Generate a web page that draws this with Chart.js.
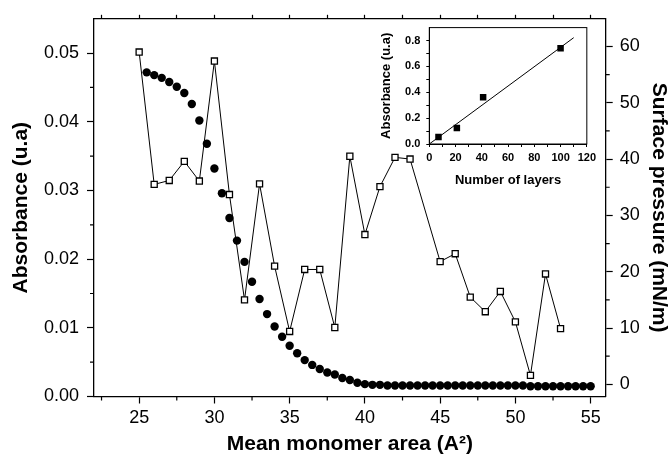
<!DOCTYPE html>
<html>
<head>
<meta charset="utf-8">
<script src="https://cdn.jsdelivr.net/npm/chart.js@4.4.1/dist/chart.umd.min.js"></script>
<style>
  body { margin: 0; background: #fff; }
  #wrap { position: relative; width: 672px; height: 454px; }
  #main { position: absolute; left: 0; top: 0; }
  #inset { position: absolute; left: 375px; top: 15px; }
</style>
</head>
<body>
<div id="wrap">
  <canvas id="main" width="672" height="454"></canvas>
  <canvas id="inset" width="225" height="180"></canvas>
</div>
<script>
// surface pressure isotherm (open squares, right axis)
const pressureArea = [25, 26, 27, 28, 29, 30, 31, 32, 33, 34, 35, 36, 37, 38, 39, 40, 41, 42, 43,
  45, 46, 47, 48, 49, 50, 51, 52, 53];
const pressure = [59.0, 35.5, 36.2, 39.6, 36.1, 57.4, 33.7, 15.0, 35.6, 21.0, 9.4, 20.4, 20.4, 10.1,
  40.5, 26.6, 35.1, 40.3, 40.0, 21.8, 23.2, 15.5, 12.9, 16.5, 11.1, 1.6, 19.6, 9.9];

// absorbance (filled circles, left axis)
const absArea = [25.5, 26, 26.5, 27, 27.5, 28, 28.5, 29, 29.5, 30, 30.5, 31, 31.5, 32, 32.5, 33,
  33.5, 34, 34.5, 35, 35.5, 36, 36.5, 37, 37.5, 38, 38.5, 39, 39.5, 40, 40.5, 41, 41.5, 42, 42.5,
  43, 43.5, 44, 44.5, 45, 45.5, 46, 46.5, 47, 47.5, 48, 48.5, 49, 49.5, 50, 50.5, 51, 51.5, 52,
  52.5, 53, 53.5, 54, 54.5, 55];
const absorbance = [0.0472, 0.0468, 0.0464, 0.0458, 0.0451, 0.0442, 0.0426, 0.0402, 0.0368, 0.0332,
  0.0296, 0.0260, 0.0227, 0.0196, 0.0167, 0.0142, 0.0120, 0.0102, 0.0087, 0.0074, 0.0063, 0.0053,
  0.0046, 0.0040, 0.0035, 0.0032, 0.0027, 0.0024, 0.0020, 0.0018, 0.0017, 0.0017, 0.0016, 0.0016,
  0.0016, 0.0016, 0.0016, 0.0016, 0.0016, 0.0016, 0.0016, 0.0016, 0.0016, 0.0016, 0.0016, 0.0016,
  0.0016, 0.0016, 0.0016, 0.0016, 0.0016, 0.0015, 0.0015, 0.0015, 0.0015, 0.0015, 0.0015, 0.0015,
  0.0015, 0.0015];

// inset: absorbance vs number of layers
const layers = [7, 21, 41, 100];
const layerAbs = [0.054, 0.123, 0.361, 0.741];
const fitLayers = [0, 110];
const fitAbs = [0.0, 0.822];

// ticks
const xTickValues = [22.5, 25, 27.5, 30, 32.5, 35, 37.5, 40, 42.5, 45, 47.5, 50, 52.5, 55];
const xLabelValues = [25, 30, 35, 40, 45, 50, 55];
const leftTickValues = [0, 0.005, 0.01, 0.015, 0.02, 0.025, 0.03, 0.035, 0.04, 0.045, 0.05];
const leftLabelValues = [0, 0.01, 0.02, 0.03, 0.04, 0.05];
const rightTickValues = [0, 5, 10, 15, 20, 25, 30, 35, 40, 45, 50, 55, 60];
const rightLabelValues = [0, 10, 20, 30, 40, 50, 60];
const insetXTicks = [0, 10, 20, 30, 40, 50, 60, 70, 80, 90, 100, 110, 120];
const insetXLabels = [0, 20, 40, 60, 80, 100, 120];
const insetYTicks = [0, 0.1, 0.2, 0.3, 0.4, 0.5, 0.6, 0.7, 0.8];
const insetYLabels = [0, 0.2, 0.4, 0.6, 0.8];

const FONT = "'Liberation Sans', Arial, Helvetica, sans-serif";
const near = (v, list) => list.some(l => Math.abs(l - v) < 1e-9);
const fixTicks = values => scale => { scale.ticks = values.map(v => ({ value: v })); };
const majorColor = labels => c => (c.tick && near(c.tick.value, labels)) ? '#000' : 'rgba(0,0,0,0)';

// short minor tick marks on the main axes
const minorTicks = {
  id: 'minorTicks',
  afterDraw(chart) {
    const ctx = chart.ctx;
    const s = chart.scales;
    ctx.save();
    ctx.strokeStyle = '#000';
    ctx.lineWidth = 1.2;
    ctx.beginPath();
    xTickValues.filter(v => !near(v, xLabelValues)).forEach(v => {
      const px = s.x.getPixelForValue(v);
      ctx.moveTo(px, s.x.top); ctx.lineTo(px, s.x.top + 4);
    });
    leftTickValues.filter(v => !near(v, leftLabelValues)).forEach(v => {
      const py = s.y.getPixelForValue(v);
      ctx.moveTo(s.y.right, py); ctx.lineTo(s.y.right - 4, py);
    });
    rightTickValues.filter(v => !near(v, rightLabelValues)).forEach(v => {
      const py = s.y2.getPixelForValue(v);
      ctx.moveTo(s.y2.left, py); ctx.lineTo(s.y2.left + 4, py);
    });
    ctx.stroke();
    ctx.restore();
  }
};

const boxPlugin = {
  id: 'box',
  afterDraw(chart) {
    const a = chart.chartArea;
    const ctx = chart.ctx;
    ctx.save();
    ctx.strokeStyle = '#000';
    ctx.lineWidth = 1;
    ctx.strokeRect(a.left, a.top, a.right - a.left, a.bottom - a.top);
    ctx.restore();
  }
};

const tickFont = { family: FONT, size: 18 };
const titleFont = { family: FONT, size: 21, weight: 'bold' };
const axisBorder = { color: '#000', width: 1.3 };

new Chart(document.getElementById('main'), {
  type: 'scatter',
  data: {
    datasets: [
      {
        label: 'Surface pressure',
        data: pressureArea.map((x, i) => ({ x: x, y: pressure[i] })),
        yAxisID: 'y2',
        showLine: true,
        borderColor: '#000',
        borderWidth: 1,
        pointStyle: 'rect',
        pointRadius: 4.3,
        pointBackgroundColor: '#fff',
        pointBorderColor: '#000',
        pointBorderWidth: 1.3
      },
      {
        label: 'Absorbance',
        data: absArea.map((x, i) => ({ x: x, y: absorbance[i] })),
        yAxisID: 'y',
        showLine: false,
        pointStyle: 'circle',
        pointRadius: 4.2,
        pointBackgroundColor: '#000',
        pointBorderColor: '#000',
        pointBorderWidth: 0
      }
    ]
  },
  options: {
    responsive: false,
    animation: false,
    devicePixelRatio: 1,
    layout: { padding: 0 },
    plugins: { legend: { display: false }, tooltip: { enabled: false } },
    scales: {
      x: {
        type: 'linear', position: 'bottom', min: 22, max: 56,
        afterBuildTicks: fixTicks(xTickValues),
        afterFit: s => { s.height = 57.5; },
        border: axisBorder,
        grid: { drawOnChartArea: false, tickLength: 7, tickWidth: 1.2, tickColor: majorColor(xLabelValues) },
        ticks: {
          padding: 4, color: '#000', font: tickFont, maxRotation: 0, autoSkip: false,
          callback: v => near(v, xLabelValues) ? String(v) : ''
        },
        title: { display: true, text: 'Mean monomer area (A²)', color: '#000', font: titleFont, padding: { top: 0, bottom: -3 } }
      },
      xTop: {
        type: 'linear', position: 'top', min: 22, max: 56,
        afterBuildTicks: fixTicks(xTickValues),
        afterFit: s => { s.height = 14.7; },
        border: axisBorder,
        grid: { drawOnChartArea: false, tickLength: 4, tickWidth: 1.2, tickColor: '#000' },
        ticks: { display: false }
      },
      y: {
        type: 'linear', position: 'left', min: 0, max: 0.055,
        afterBuildTicks: fixTicks(leftTickValues),
        afterFit: s => { s.width = 94; },
        border: axisBorder,
        grid: { drawOnChartArea: false, tickLength: 7, tickWidth: 1.2, tickColor: majorColor(leftLabelValues) },
        ticks: {
          padding: 8, color: '#000', font: tickFont, autoSkip: false,
          callback: v => near(v, leftLabelValues) ? v.toFixed(2) : ''
        },
        title: { display: true, text: 'Absorbance (u.a)', color: '#000', font: titleFont, padding: { top: 9, bottom: 0 } }
      },
      y2: {
        type: 'linear', position: 'right', min: -2.15, max: 64.9,
        afterBuildTicks: fixTicks(rightTickValues),
        afterFit: s => { s.width = 66.3; },
        border: axisBorder,
        grid: { drawOnChartArea: false, tickLength: 7, tickWidth: 1.2, tickColor: majorColor(rightLabelValues) },
        ticks: {
          padding: 7, color: '#000', font: tickFont, autoSkip: false,
          callback: v => near(v, rightLabelValues) ? String(v) : ''
        },
        title: { display: true, text: 'Surface pressure (mN/m)', color: '#000', font: titleFont, padding: { top: 1, bottom: 0 } }
      }
    }
  },
  plugins: [minorTicks]
});

const insetTickFont = { family: FONT, size: 11, weight: 'bold' };
const insetTitleFont = { family: FONT, size: 13, weight: 'bold' };

new Chart(document.getElementById('inset'), {
  type: 'scatter',
  data: {
    datasets: [
      {
        label: 'Layers',
        data: layers.map((x, i) => ({ x: x, y: layerAbs[i] })),
        pointStyle: 'rect',
        pointRadius: 4.6,
        pointBackgroundColor: '#000',
        pointBorderColor: '#000',
        pointBorderWidth: 0
      },
      {
        label: 'Fit',
        data: fitLayers.map((x, i) => ({ x: x, y: fitAbs[i] })),
        showLine: true,
        borderColor: '#000',
        borderWidth: 1,
        pointRadius: 0
      }
    ]
  },
  options: {
    responsive: false,
    animation: false,
    devicePixelRatio: 1,
    layout: { padding: { top: 6.7, right: 6, left: 0, bottom: 0 } },
    plugins: { legend: { display: false }, tooltip: { enabled: false } },
    scales: {
      x: {
        type: 'linear', min: 0, max: 120,
        afterBuildTicks: fixTicks(insetXTicks),
        afterFit: s => { s.height = 51; },
        border: { color: '#000', width: 1 },
        grid: { drawOnChartArea: false, tickLength: 3, tickWidth: 1, tickColor: '#000' },
        ticks: {
          padding: 4, color: '#000', font: insetTickFont, maxRotation: 0, autoSkip: false,
          callback: v => near(v, insetXLabels) ? String(v) : ''
        },
        title: { display: true, text: 'Number of layers', color: '#000', font: insetTitleFont, padding: { top: 0, bottom: 7 } }
      },
      y: {
        type: 'linear', min: 0, max: 0.9,
        afterBuildTicks: fixTicks(insetYTicks),
        afterFit: s => { s.width = 54.3; },
        border: { color: '#000', width: 1 },
        grid: { drawOnChartArea: false, tickLength: 3, tickWidth: 1, tickColor: '#000' },
        ticks: {
          padding: 6, color: '#000', font: insetTickFont, autoSkip: false,
          callback: v => near(v, insetYLabels) ? v.toFixed(1) : ''
        },
        title: { display: true, text: 'Absorbance (u.a)', color: '#000', font: insetTitleFont, padding: { top: 4, bottom: 0 } }
      }
    }
  },
  plugins: [boxPlugin]
});
</script>
</body>
</html>
